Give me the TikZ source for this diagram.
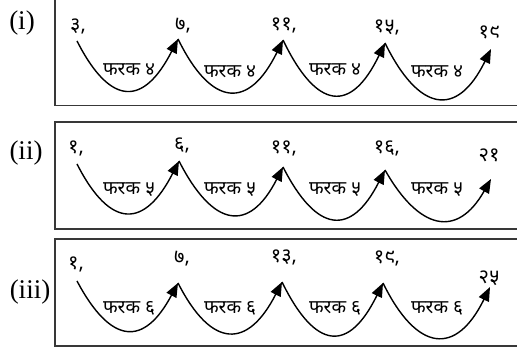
\documentclass[tikz,border=0pt]{standalone}
\usepackage{fontspec}
\newfontfamily\dev[Script=Devanagari,Language=Nepali]{Noto Sans}
\newfontfamily\romanf{Liberation Serif}
\usetikzlibrary{arrows.meta,calc}
\tikzset{
  boxline/.style={line width=1.4pt, draw=black!78},
  numlbl/.style={inner sep=0pt, font=\dev\fontsize{20}{20}\selectfont},
  difflbl/.style={inner sep=0pt, font=\dev\fontsize{19}{19}\selectfont},
  rowlbl/.style={inner sep=0pt, font=\romanf\fontsize{27}{27}\selectfont},
  jumparc/.style={line width=1.4pt, -{Triangle[length=14pt,width=11pt]}},
}
% \jump{from}{to}{depth}
\newcommand\jump[3]{\draw[jumparc] (#1) .. controls ($(#1)+(34,#3*1.333)$) and ($(#2)+(-34,#3*1.333)$) .. (#2);}
\begin{document}
\begin{tikzpicture}[x=1pt,y=-1pt]
\useasboundingbox (0,0) rectangle (517,347);
% boxes
\draw[boxline] (55,-5) -- (55,105.5) -- (525,105.5);
\draw[boxline] (525,122) -- (55,122) -- (55,229) -- (525,229);
\draw[boxline] (525,239) -- (55,239) -- (55,346) -- (525,346);
% row labels
\node[rowlbl] (ri) at (22,23) {(i)};
\node[rowlbl] (rii) at (26,153) {(ii)};
\node[rowlbl] (riii) at (30,292) {(iii)};
% ---- row 1
\node[numlbl] (a0) at (78,26) {३,};
\node[numlbl] (a1) at (183,26) {७,};
\node[numlbl] (a2) at (284,25) {११,};
\node[numlbl] (a3) at (387,27) {१५,};
\node[numlbl] (a4) at (489,32) {१९};
\coordinate (pa0) at (77,41);
\coordinate (pa1) at (178,39);
\coordinate (pa2) at (283,40);
\coordinate (pa3) at (385,43);
\coordinate (pa4) at (491,49);
\jump{pa0}{pa1}{50}
\jump{pa1}{pa2}{52}
\jump{pa2}{pa3}{53}
\jump{pa3}{pa4}{52}
\node[difflbl] (da1) at (129,70) {फरक ४};
\node[difflbl] (da2) at (230,72) {फरक ४};
\node[difflbl] (da3) at (335,70) {फरक ४};
\node[difflbl] (da4) at (437,72) {फरक ४};
% ---- row 2
\node[numlbl] (b0) at (76,148) {१,};
\node[numlbl] (b1) at (182,145) {६,};
\node[numlbl] (b2) at (284,148) {११,};
\node[numlbl] (b3) at (387,148) {१६,};
\node[numlbl] (b4) at (489,155) {२१};
\coordinate (pb0) at (77,164);
\coordinate (pb1) at (179,161);
\coordinate (pb2) at (283,167);
\coordinate (pb3) at (385,170);
\coordinate (pb4) at (491,179);
\jump{pb0}{pb1}{50}
\jump{pb1}{pb2}{50}
\jump{pb2}{pb3}{50}
\jump{pb3}{pb4}{45}
\node[difflbl] (db1) at (129,190) {फरक ५};
\node[difflbl] (db2) at (230,190) {फरक ५};
\node[difflbl] (db3) at (335,190) {फरक ५};
\node[difflbl] (db4) at (437,190) {फरक ५};
% ---- row 3
\node[numlbl] (c0) at (76,264) {१,};
\node[numlbl] (c1) at (182,259) {७,};
\node[numlbl] (c2) at (284,257) {१३,};
\node[numlbl] (c3) at (387,258) {१९,};
\node[numlbl] (c4) at (489,278) {२५};
\coordinate (pc0) at (77,281);
\coordinate (pc1) at (178,283);
\coordinate (pc2) at (282,282);
\coordinate (pc3) at (383,283);
\coordinate (pc4) at (490,287);
\jump{pc0}{pc1}{48}
\jump{pc1}{pc2}{50}
\jump{pc2}{pc3}{52}
\jump{pc3}{pc4}{52}
\node[difflbl] (dc1) at (129,308) {फरक ६};
\node[difflbl] (dc2) at (230,308) {फरक ६};
\node[difflbl] (dc3) at (335,308) {फरक ६};
\node[difflbl] (dc4) at (437,308) {फरक ६};
\end{tikzpicture}
\end{document}
